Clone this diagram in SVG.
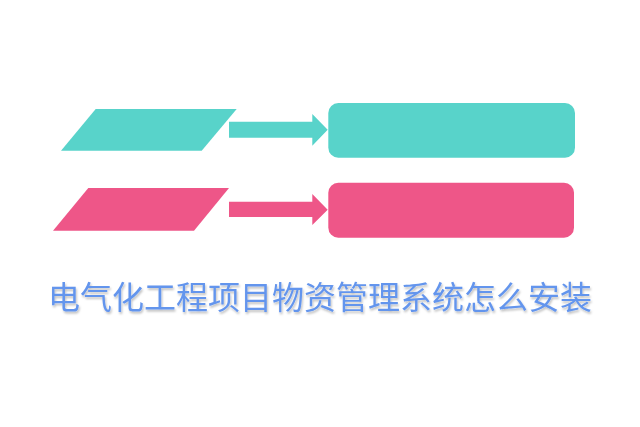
<svg xmlns="http://www.w3.org/2000/svg" width="640" height="427" viewBox="0 0 640 427">
  <defs>
    <style>
      .teal { fill: #58D3CA; }
      .pink { fill: #EE5688; }
      .title { font-family: "Noto Sans CJK SC", "Microsoft YaHei", sans-serif; font-size: 32px; fill: #6495ED; }
    </style>
    <filter id="shadow" x="-5%" y="-20%" width="110%" height="150%">
      <feDropShadow dx="1" dy="2" stdDeviation="1.2" flood-color="#000" flood-opacity="0.25"/>
    </filter>
  </defs>
  <rect width="640" height="427" fill="#ffffff"/>
  <g id="input1">
    <polygon class="teal" points="95.7,109 236.7,109 201.7,150.7 61,150.7"/>
  </g>
  <g id="input2">
    <polygon class="pink" points="88.3,188 229,188 194,230.7 53,230.7"/>
  </g>
  <g id="box1">
    <rect class="teal" x="328.3" y="103" width="246.7" height="54.7" rx="10" ry="10"/>
  </g>
  <g id="box2">
    <rect class="pink" x="328.3" y="182.7" width="245.7" height="55" rx="10" ry="10"/>
  </g>
  <g id="connectors">
    <polygon class="teal" points="229,121.7 312.3,121.7 312.3,114 327.7,129.7 312.3,145.7 312.3,137.7 229,137.7"/>
    <polygon class="pink" points="229,201.7 312.3,201.7 312.3,194 327.7,209.7 312.3,225 312.3,217 229,217"/>
  </g>
  <g id="title">
    <text class="title" x="320" y="309" text-anchor="middle" filter="url(#shadow)">电气化工程项目物资管理系统怎么安装</text>
  </g>
</svg>
